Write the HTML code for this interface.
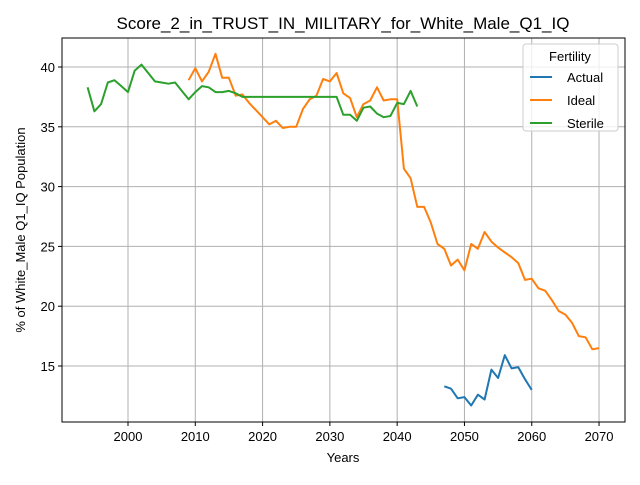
<!DOCTYPE html>
<html><head><meta charset="utf-8"><style>
body{margin:0;background:#fff;font-family:"Liberation Sans",sans-serif}
</style></head><body>
<svg width="640" height="480" xmlns="http://www.w3.org/2000/svg" font-family="Liberation Sans, sans-serif">
<g id="grid"></g>
<g id="series"></g>
<rect x="62" y="38" width="563" height="384" fill="none" stroke="#000" stroke-width="1"/>
<g id="ticks"></g>
<text x="343" y="29" text-anchor="middle" font-size="17">Score_2_in_TRUST_IN_MILITARY_for_White_Male_Q1_IQ</text>
<text x="343" y="462" text-anchor="middle" font-size="13">Years</text>
<text x="25" y="230" text-anchor="middle" font-size="13" transform="rotate(-90 25 230)">% of White_Male Q1_IQ Population</text>
<g>
<rect x="523" y="44" width="95" height="87" rx="3" fill="#fff" fill-opacity="0.8" stroke="#ccc"/>
<text x="570" y="61" text-anchor="middle" font-size="13">Fertility</text>
<line x1="530" y1="77" x2="552" y2="77" stroke="#1f77b4" stroke-width="2"/>
<text x="567" y="82" font-size="13">Actual</text>
<line x1="530" y1="100" x2="552" y2="100" stroke="#ff7f0e" stroke-width="2"/>
<text x="567" y="105" font-size="13">Ideal</text>
<line x1="530" y1="123" x2="552" y2="123" stroke="#2ca02c" stroke-width="2"/>
<text x="567" y="128" font-size="13">Sterile</text>
</g>
</svg>
<script>
const xTicks=[2000,2010,2020,2030,2040,2050,2060,2070];
const yTicks=[15,20,25,30,35,40];
const sterileStart=1994;
const sterile=[38.3,36.3,36.9,38.7,38.9,38.4,37.9,39.7,40.2,39.5,38.8,38.7,38.6,38.7,38.0,37.3,37.9,38.4,38.3,37.9,37.9,38.0,37.8,37.5,37.5,37.5,37.5,37.5,37.5,37.5,37.5,37.5,37.5,37.5,37.5,37.5,37.5,37.5,36.0,36.0,35.5,36.6,36.7,36.1,35.8,35.9,37.0,36.9,38.0,36.7];
const idealStart=2009;
const ideal=[38.9,39.9,38.8,39.6,41.1,39.1,39.1,37.6,37.7,37.0,36.4,35.8,35.2,35.5,34.9,35.0,35.0,36.5,37.3,37.6,39.0,38.8,39.5,37.8,37.4,35.8,36.9,37.2,38.3,37.2,37.3,37.3,31.5,30.7,28.3,28.3,27.0,25.2,24.8,23.4,23.9,23.0,25.2,24.8,26.2,25.4,24.9,24.5,24.1,23.6,22.2,22.3,21.5,21.3,20.5,19.6,19.3,18.6,17.5,17.4,16.4,16.5];
const actualStart=2047;
const actual=[13.3,13.1,12.3,12.4,11.7,12.6,12.2,14.7,14.0,15.9,14.8,14.9,13.9,13.0];
const NS='http://www.w3.org/2000/svg';
function X(v){return 128+(v-2000)*6.729;}
function Y(v){return 67+(40-v)*11.96;}
function mk(t,a,p){const e=document.createElementNS(NS,t);for(const k in a)e.setAttribute(k,a[k]);p.appendChild(e);return e;}
const grid=document.getElementById('grid'),ticks=document.getElementById('ticks'),series=document.getElementById('series');
xTicks.forEach(v=>{
 const g=mk('line',{x1:X(v),x2:X(v),y1:38,y2:422,stroke:'#b0b0b0','stroke-width':1},grid);
 
 
 mk('line',{x1:X(v),x2:X(v),y1:422,y2:426,stroke:'#000'},ticks);
 const t=mk('text',{x:X(v),y:441,'text-anchor':'middle','font-size':13},ticks);
 t.textContent=v;
 
 
});
yTicks.forEach(v=>{
 const g=mk('line',{x1:62,x2:625,y1:Y(v),y2:Y(v),stroke:'#b0b0b0','stroke-width':1},grid);
 
 
 mk('line',{x1:58,x2:62,y1:Y(v),y2:Y(v),stroke:'#000'},ticks);
 const t=mk('text',{x:55,y:Y(v)+5,'text-anchor':'end','font-size':13},ticks);
 t.textContent=v;
 
 
});
function line(arr,start,color,name){
 const pts=arr.map((v,i)=>X(start+i).toFixed(1)+','+Y(v).toFixed(1)).join(' ');
 const p=mk('polyline',{points:pts,fill:'none',stroke:color,'stroke-width':2,'stroke-linejoin':'round'},series);
 
 
}
line(actual,actualStart,'#1f77b4','actual-line');
line(ideal,idealStart,'#ff7f0e','ideal-line');
line(sterile,sterileStart,'#2ca02c','sterile-line');
</script>
</body></html>
